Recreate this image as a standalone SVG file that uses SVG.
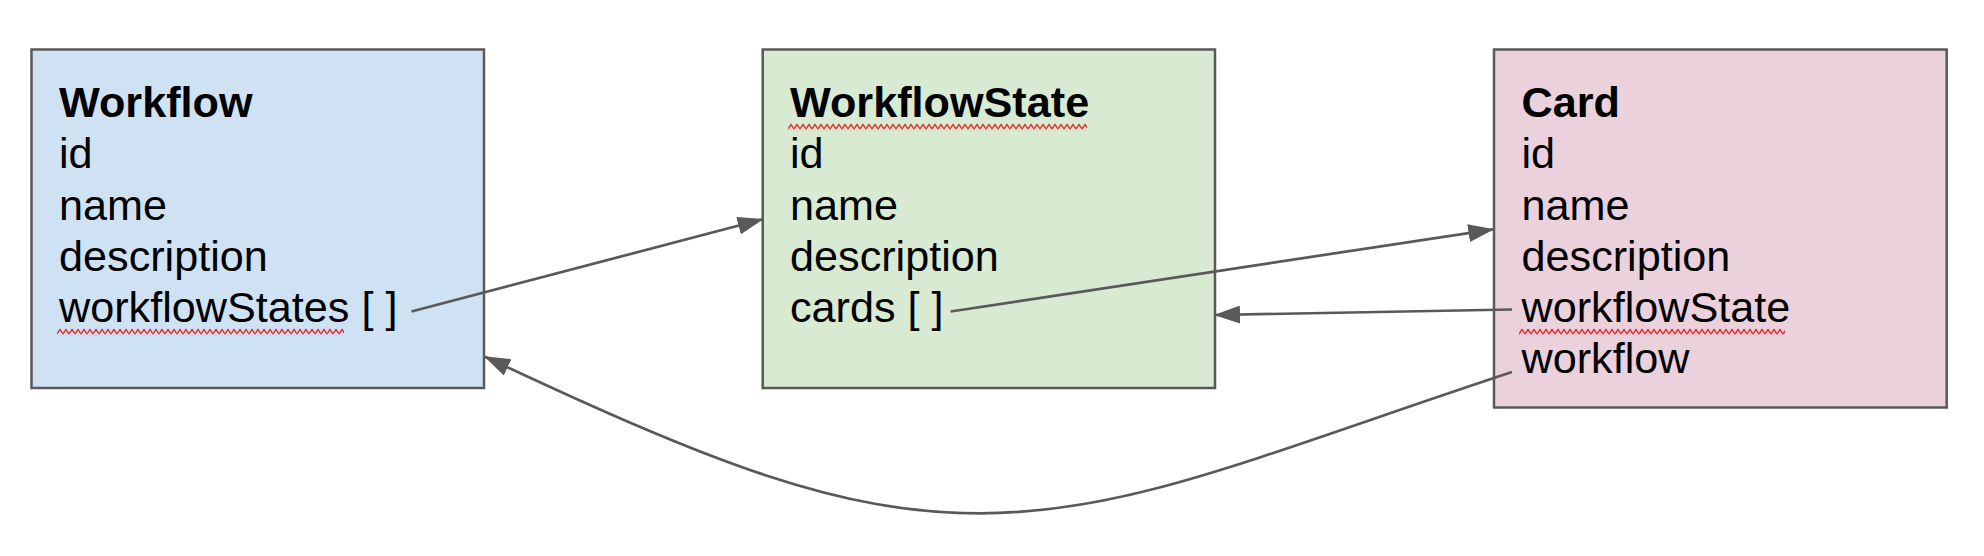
<svg xmlns="http://www.w3.org/2000/svg" width="1984" height="556" viewBox="0 0 1984 556">
  <style>
    .box { stroke: #595959; stroke-width: 2.5; }
    .t { font-family: "Liberation Sans", Arial, sans-serif; font-size: 43.2px; fill: #000000; }
    .h { font-weight: bold; }
    .conn { fill: none; stroke: #595959; stroke-width: 2.7; marker-end: url(#arrow); }
  </style>
  <defs>
    <marker id="arrow" markerUnits="userSpaceOnUse" viewBox="0 0 26 18" markerWidth="26" markerHeight="18" refX="25" refY="9" orient="auto">
      <path d="M0,0 L26,9 L0,18 z" fill="#595959"/>
    </marker>
    <pattern id="sq" patternUnits="userSpaceOnUse" width="6" height="7">
      <polyline points="0,5.5 3,1 6,5.5" fill="none" stroke="#e00000" stroke-width="1.2"/>
    </pattern>
  </defs>
  <rect width="1984" height="556" fill="#ffffff"/>

  <g id="workflow">
    <rect class="box" x="31.5" y="49.5" width="452.5" height="338.5" fill="#cfe2f3"/>
    <text class="t h" x="59" y="117">Workflow</text>
    <text class="t" x="59" y="168">id</text>
    <text class="t" x="59" y="219.5">name</text>
    <text class="t" x="59" y="270.5">description</text>
    <text class="t" x="59" y="321.5">workflowStates [ ]</text>
    <rect x="0" y="0" width="287" height="7" fill="url(#sq)" transform="translate(57,328.5)"/>
  </g>

  <g id="workflowstate">
    <rect class="box" x="762.7" y="49.5" width="452.3" height="338.5" fill="#d9ead3"/>
    <text class="t h" x="790" y="117">WorkflowState</text>
    <text class="t" x="790" y="168">id</text>
    <text class="t" x="790" y="219.5">name</text>
    <text class="t" x="790" y="270.5">description</text>
    <text class="t" x="790" y="321.5">cards [ ]</text>
    <rect x="0" y="0" width="299" height="7" fill="url(#sq)" transform="translate(788,123.5)"/>
  </g>

  <g id="card">
    <rect class="box" x="1494" y="49.5" width="452.7" height="358" fill="#ead1dc"/>
    <text class="t h" x="1521.5" y="117">Card</text>
    <text class="t" x="1521.5" y="168">id</text>
    <text class="t" x="1521.5" y="219.5">name</text>
    <text class="t" x="1521.5" y="270.5">description</text>
    <text class="t" x="1521.5" y="321.5">workflowState</text>
    <text class="t" x="1521.5" y="372.5">workflow</text>
    <rect x="0" y="0" width="266" height="7" fill="url(#sq)" transform="translate(1519,328.5)"/>
  </g>

  <g id="connectors">
    <path class="conn" d="M411.5,311.5 L762.7,219.3"/>
    <path class="conn" d="M950.7,311.5 L1493.3,229.3"/>
    <path class="conn" d="M1512,309.5 L1215,315"/>
    <path class="conn" d="M1512,372 C1262,454.5 1130,513.3 980,513.3 C840,513.3 715,464.8 485,356.7"/>
  </g>
</svg>
